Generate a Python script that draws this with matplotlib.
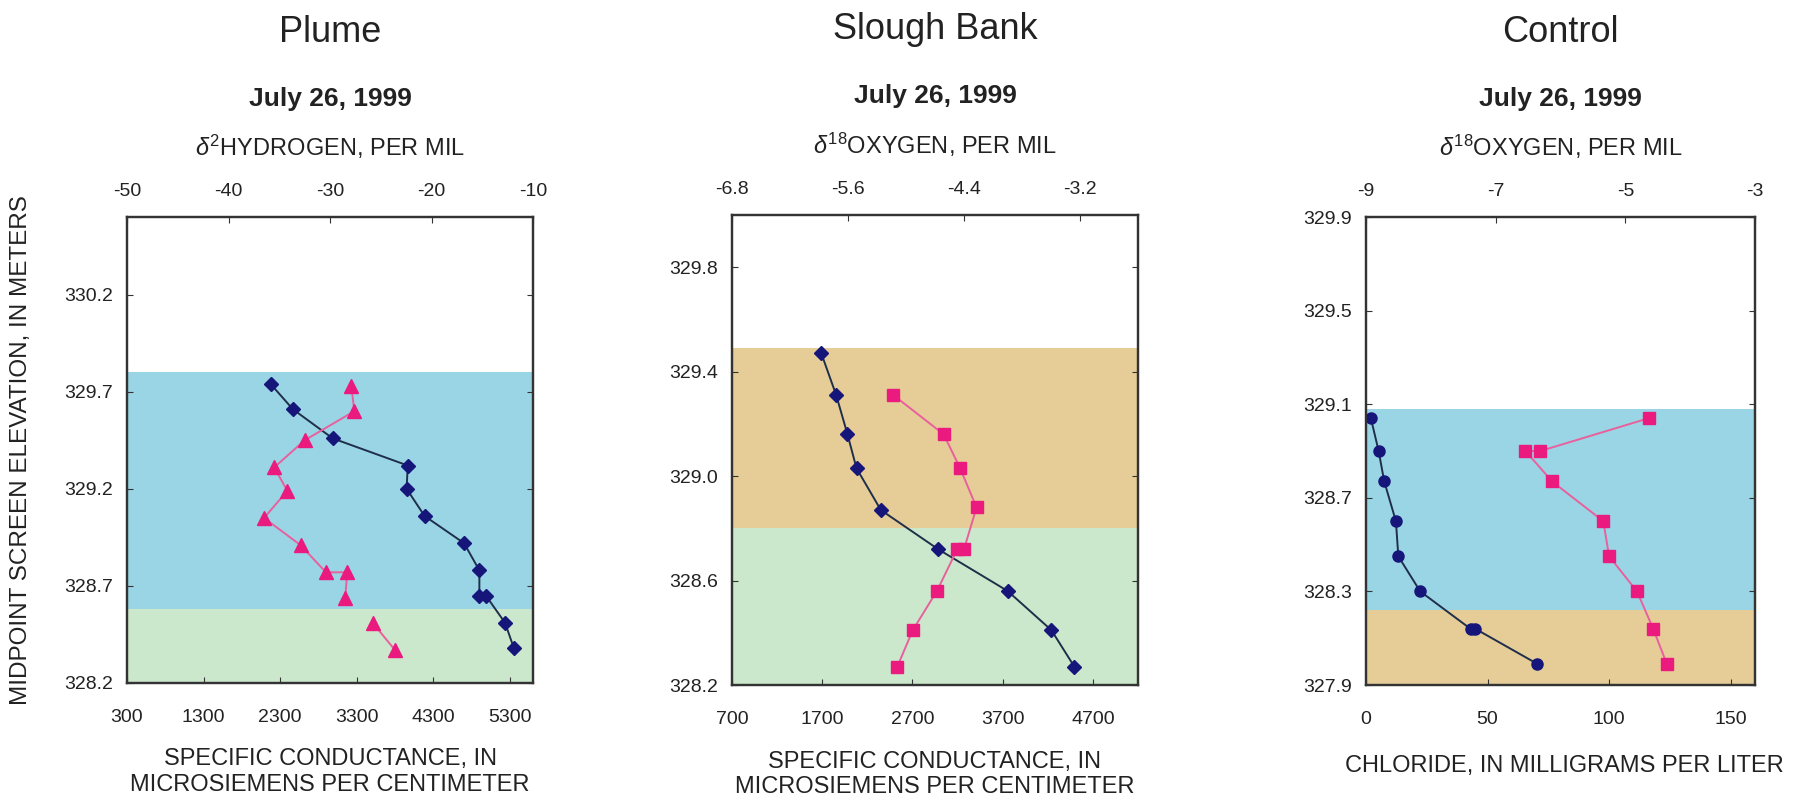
import matplotlib
matplotlib.use("Agg")
import matplotlib.pyplot as plt

plt.rcParams["font.family"] = ["Liberation Sans", "DejaVu Sans"]
plt.rcParams["mathtext.fontset"] = "custom"
plt.rcParams["mathtext.rm"] = "Liberation Sans"
plt.rcParams["mathtext.it"] = "Liberation Sans:italic"

# ---------------- Plume ----------------
plume_cond_elev = [329.74, 329.61, 329.46, 329.32, 329.20, 329.06, 328.92, 328.78, 328.65, 328.65, 328.51, 328.38]
plume_cond = [2175, 2465, 2985, 3965, 3950, 4185, 4700, 4900, 4900, 4985, 5235, 5350]
plume_d2h_elev_a = [329.73, 329.60, 329.45, 329.31, 329.19, 329.05, 328.91, 328.77, 328.77, 328.64]
plume_d2h_a = [-27.9, -27.6, -32.5, -35.5, -34.2, -36.5, -32.9, -30.4, -28.3, -28.5]
plume_d2h_elev_b = [328.51, 328.37]
plume_d2h_b = [-25.8, -23.6]
plume_yticks = [328.2, 328.7, 329.2, 329.7, 330.2]
plume_ytick_labels = ["328.2", "328.7", "329.2", "329.7", "330.2"]
plume_xticks = [300, 1300, 2300, 3300, 4300, 5300]
plume_xtick_labels = ["300", "1300", "2300", "3300", "4300", "5300"]
plume_topticks = [-50, -40, -30, -20, -10]
plume_toptick_labels = ["-50", "-40", "-30", "-20", "-10"]

# ---------------- Slough Bank ----------------
slough_cond_elev = [329.47, 329.31, 329.16, 329.03, 328.87, 328.72, 328.56, 328.41, 328.27]
slough_cond = [1690, 1855, 1980, 2080, 2350, 2985, 3755, 4240, 4495]
slough_d18o_elev = [329.31, 329.16, 329.03, 328.88, 328.72, 328.72, 328.56, 328.41, 328.27]
slough_d18o = [-5.13, -4.61, -4.44, -4.27, -4.40, -4.47, -4.68, -4.93, -5.09]
slough_yticks = [328.2, 328.6, 329.0, 329.4, 329.8]
slough_ytick_labels = ["328.2", "328.6", "329.0", "329.4", "329.8"]
slough_xticks = [700, 1700, 2700, 3700, 4700]
slough_xtick_labels = ["700", "1700", "2700", "3700", "4700"]
slough_topticks = [-6.8, -5.6, -4.4, -3.2]
slough_toptick_labels = ["-6.8", "-5.6", "-4.4", "-3.2"]

# ---------------- Control ----------------
control_cl_elev = [329.04, 328.90, 328.77, 328.60, 328.45, 328.30, 328.14, 328.14, 327.99]
control_cl = [2.0, 5.2, 7.5, 12.3, 13.3, 22.3, 43.0, 45.0, 70.5]
control_d18o_elev = [329.04, 328.90, 328.90, 328.77, 328.60, 328.45, 328.30, 328.14, 327.99]
control_d18o = [-4.64, -6.31, -6.54, -6.13, -5.34, -5.25, -4.82, -4.57, -4.36]
control_yticks = [327.9, 328.3, 328.7, 329.1, 329.5, 329.9]
control_ytick_labels = ["327.9", "328.3", "328.7", "329.1", "329.5", "329.9"]
control_xticks = [0, 50, 100, 150]
control_xtick_labels = ["0", "50", "100", "150"]
control_topticks = [-9, -7, -5, -3]
control_toptick_labels = ["-9", "-7", "-5", "-3"]

BLUE_BAND = "#9ad5e6"
GREEN_BAND = "#cce8cc"
TAN_BAND = "#e6cd98"
NAVY = "#16167a"
NAVY_LINE = "#1f2f4a"
PINK = "#ea1a7e"
PINK_LINE = "#e8609c"
FRAME = "#333333"
TEXT = "#222222"

fig = plt.figure(figsize=(17.96, 8.09), dpi=100)


def make_panel(rect, title, top_label, bottom_label, xlim, top_xlim, ylim,
               xticks, xlabels, topticks, toplabels, yticks, ylabels, bands):
    ax = fig.add_axes(rect)
    ax.set_xlim(*xlim)
    ax.set_ylim(*ylim)
    for lo, hi, col in bands:
        ax.axhspan(lo, hi, color=col, lw=0, zorder=0)
    ax.set_xticks(xticks)
    ax.set_xticklabels(xlabels)
    ax.set_yticks(yticks)
    ax.set_yticklabels(ylabels)
    ax.tick_params(axis="x", direction="in", length=4, pad=19, labelsize=14,
                   colors=FRAME, labelcolor=TEXT)
    ax.tick_params(axis="y", direction="in", length=4, pad=10, labelsize=14,
                   right=True, colors=FRAME, labelcolor=TEXT)
    ax2 = ax.twiny()
    ax2.set_xlim(*top_xlim)
    ax2.set_xticks(topticks)
    ax2.set_xticklabels(toplabels)
    ax2.tick_params(axis="x", direction="in", length=4, pad=12, labelsize=14,
                    colors=FRAME, labelcolor=TEXT)
    for a in (ax, ax2):
        for sp in a.spines.values():
            sp.set_color(FRAME)
            sp.set_linewidth(1.6)
    ax.set_xlabel(bottom_label, fontsize=17, color=TEXT, linespacing=1.2)
    ax.xaxis.set_label_coords(0.5, -0.14)
    ax.xaxis.label.set_va("top")
    ax.text(0.5, 1.395, title, transform=ax.transAxes, ha="center", va="center",
            fontsize=26, color=TEXT)
    ax.text(0.5, 1.253, "July 26, 1999", transform=ax.transAxes, ha="center",
            va="center", fontsize=19, fontweight="bold", color=TEXT)
    ax.text(0.5, 1.15, top_label, transform=ax.transAxes, ha="center",
            va="center", fontsize=17, color=TEXT)
    return ax, ax2


# Plume
ax1, ax1t = make_panel(
    [127 / 1796, 1 - 683 / 809, 406 / 1796, 466 / 809], "Plume",
    r"$\delta^{2}$HYDROGEN, PER MIL",
    "SPECIFIC CONDUCTANCE, IN\nMICROSIEMENS PER CENTIMETER",
    (300, 5600), (-50, -10), (328.2, 330.6),
    plume_xticks, plume_xtick_labels, plume_topticks, plume_toptick_labels,
    plume_yticks, plume_ytick_labels,
    [(328.2, 328.58, GREEN_BAND), (328.58, 329.80, BLUE_BAND)])
ax1.plot(plume_cond, plume_cond_elev, color=NAVY_LINE, lw=1.4, marker="D",
         ms=7, mfc=NAVY, mec=NAVY, zorder=3)
ax1t.plot(plume_d2h_a, plume_d2h_elev_a, color=PINK_LINE, lw=1.4, marker="^",
          ms=10, mfc=PINK, mec=PINK, zorder=3)
ax1t.plot(plume_d2h_b, plume_d2h_elev_b, color=PINK_LINE, lw=1.4, marker="^",
          ms=10, mfc=PINK, mec=PINK, zorder=3)
ax1.set_ylabel("MIDPOINT SCREEN ELEVATION, IN METERS", fontsize=17.5, color=TEXT)
ax1.yaxis.set_label_coords(-0.235, 0.5)

# Slough Bank
ax2, ax2t = make_panel(
    [732 / 1796, 1 - 685 / 809, 406 / 1796, 470 / 809], "Slough Bank",
    r"$\delta^{18}$OXYGEN, PER MIL",
    "SPECIFIC CONDUCTANCE, IN\nMICROSIEMENS PER CENTIMETER",
    (700, 5200), (-6.8, -2.6), (328.2, 330.0),
    slough_xticks, slough_xtick_labels, slough_topticks, slough_toptick_labels,
    slough_yticks, slough_ytick_labels,
    [(328.2, 328.80, GREEN_BAND), (328.80, 329.49, TAN_BAND)])
ax2.plot(slough_cond, slough_cond_elev, color=NAVY_LINE, lw=1.4, marker="D",
         ms=7, mfc=NAVY, mec=NAVY, zorder=3)
ax2t.plot(slough_d18o, slough_d18o_elev, color=PINK_LINE, lw=1.4, marker="s",
          ms=9, mfc=PINK, mec=PINK, zorder=3)

# Control
ax3, ax3t = make_panel(
    [1366 / 1796, 1 - 685 / 809, 389 / 1796, 468 / 809], "Control",
    r"$\delta^{18}$OXYGEN, PER MIL",
    "CHLORIDE, IN MILLIGRAMS PER LITER",
    (0, 160), (-9, -3), (327.9, 329.9),
    control_xticks, control_xtick_labels, control_topticks, control_toptick_labels,
    control_yticks, control_ytick_labels,
    [(327.9, 328.22, TAN_BAND), (328.22, 329.08, BLUE_BAND)])
ax3.xaxis.set_label_coords(0.51, -0.15)
ax3.plot(control_cl, control_cl_elev, color=NAVY_LINE, lw=1.4, marker="o",
         ms=8, mfc=NAVY, mec=NAVY, zorder=3)
ax3t.plot(control_d18o, control_d18o_elev, color=PINK_LINE, lw=1.4, marker="s",
          ms=9, mfc=PINK, mec=PINK, zorder=3)

fig.savefig("out.png", dpi=100)
